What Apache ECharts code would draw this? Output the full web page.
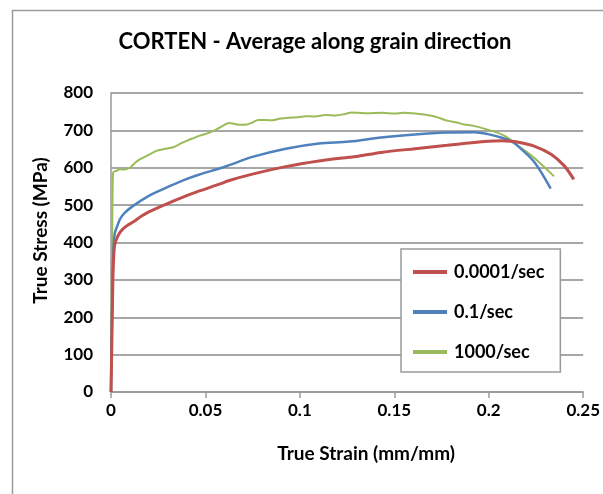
<!DOCTYPE html>
<html><head><meta charset="utf-8">
<script src="https://cdn.jsdelivr.net/npm/echarts@6/dist/echarts.min.js"></script>
<style>html,body{margin:0;padding:0;background:#fff}#c{width:603px;height:494px}</style>
</head><body><div id="c"></div>
<script>
const seriesNames = ['0.0001/sec', '0.1/sec', '1000/sec'];
const colors = ['#C0504D', '#4F81BD', '#9BBB59'];

const redStrain = [0,0.0005,0.001,0.0015,0.002,0.003,0.0045,0.0065,0.009,0.0117,0.016,0.02,0.0293,0.0375,0.0468,0.0574,0.0626,0.0749,0.0925,0.11,0.126,0.131,0.143,0.161,0.178,0.189,0.1995,0.2065,0.2117,0.215,0.224,0.233,0.240,0.245];
const redStress = [0,150,300,370,395,410,425,437,447,455,470,482,503,520,538,556,566,583,603,618,628,631,641,651,660,666,671,672,671,669,658,636,605,569];

const blueStrain = [0,0.0005,0.001,0.0015,0.002,0.003,0.0047,0.007,0.0117,0.02,0.0293,0.0375,0.0468,0.0574,0.0626,0.0749,0.0925,0.11,0.126,0.143,0.161,0.178,0.1925,0.1995,0.2065,0.2117,0.215,0.224,0.2328];
const blueStress = [0,200,340,400,425,440,462,478,498,525,547,565,582,598,607,629,651,665,670,681,689,694,695,690,681,671,660,616,544];

const greenStrain = [0,0.0003,0.0006,0.0009,0.0012,0.003,0.0047,0.007,0.01,0.0125,0.015,0.019,0.024,0.028,0.033,0.037,0.040,0.044,0.047,0.051,0.054,0.0574,0.0626,0.0655,0.0679,0.072,0.0749,0.078,0.0854,0.089,0.0942,0.099,0.103,0.108,0.1135,0.119,0.124,0.1275,0.131,0.136,0.1437,0.15,0.155,0.161,0.1696,0.174,0.178,0.183,0.187,0.192,0.198,0.2065,0.2117,0.215,0.224,0.2346];
const greenStress = [0,200,400,560,588,592,596,595,600,612,622,632,645,650,655,665,672,680,686,692,698,707,720,717,715,716,721,728,727,731,734,735,738,737,741,740,744,748,747,746,747,745,747,745,739,733,726,721,716,712,704,690,675,661,627,577];

const xTicks = {min: 0, max: 0.25, interval: 0.05};
const yTicks = {min: 0, max: 800, interval: 100};

function pairs(xs, ys) { return xs.map((x, i) => [x, ys[i]]); }
const datasets = [pairs(redStrain, redStress), pairs(blueStrain, blueStress), pairs(greenStrain, greenStress)];
const widths = [3, 2.5, 2];

const FONT = 'Lato';
const chart = echarts.init(document.getElementById('c'), null, {renderer: 'canvas'});
chart.setOption({
  animation: false,
  backgroundColor: '#fff',
  title: {
    text: 'CORTEN - Average along grain direction',
    left: 310, top: 26, textAlign: 'center',
    textStyle: {fontFamily: FONT, fontWeight: 'bold', fontSize: 22, color: '#000'}
  },
  grid: {left: 111, right: 17, top: 93, bottom: 102, containLabel: false},
  xAxis: {
    type: 'value', min: xTicks.min, max: xTicks.max, interval: xTicks.interval,
    name: 'True Strain (mm/mm)', nameLocation: 'middle', nameGap: 52,
    nameTextStyle: {fontFamily: FONT, fontWeight: 'bold', fontSize: 19, color: '#000', padding: [0, 0, 0, 38]},
    axisLine: {lineStyle: {color: '#9a9a9a', width: 1.5}},
    axisTick: {show: true, inside: false, length: 6, lineStyle: {color: '#9a9a9a', width: 1.5}},
    axisLabel: {fontFamily: FONT, fontWeight: 'bold', fontSize: 17, color: '#000', margin: 10},
    splitLine: {show: false}
  },
  yAxis: {
    type: 'value', min: yTicks.min, max: yTicks.max, interval: yTicks.interval,
    name: 'True Stress (MPa)', nameLocation: 'middle', nameGap: 61, nameRotate: 90,
    nameTextStyle: {fontFamily: FONT, fontWeight: 'bold', fontSize: 19, color: '#000', padding: [0, 0, 0, 24]},
    axisLine: {show: true, lineStyle: {color: '#9a9a9a', width: 1.5}},
    axisTick: {show: false},
    axisLabel: {fontFamily: FONT, fontWeight: 'bold', fontSize: 17, color: '#000', margin: 18},
    splitLine: {show: true, lineStyle: {color: '#8a8a8a', width: 1.5}}
  },
  legend: {
    orient: 'vertical', left: 401, top: 249,
    backgroundColor: '#fff', borderColor: '#9a9a9a', borderWidth: 1.5, borderRadius: 0,
    padding: [14, 16, 11, 12], itemGap: 22, itemWidth: 34, itemHeight: 4,
    icon: 'rect',
    textStyle: {fontFamily: FONT, fontWeight: 'bold', fontSize: 18, color: '#000', padding: [0, 0, 0, 2]},
    data: seriesNames
  },
  graphic: [{
    type: 'rect', silent: true, z: -1,
    shape: {x: 12.5, y: 10.5, width: 800, height: 800},
    style: {fill: 'none', stroke: '#9a9a9a', lineWidth: 1.5}
  }],
  series: datasets.map((d, i) => ({
    type: 'line', name: seriesNames[i], data: d, showSymbol: false, symbol: 'none',
    smooth: 0.3, lineStyle: {color: colors[i], width: widths[i]}, itemStyle: {color: colors[i]},
    z: 3 - i
  }))
});
</script></body></html>
